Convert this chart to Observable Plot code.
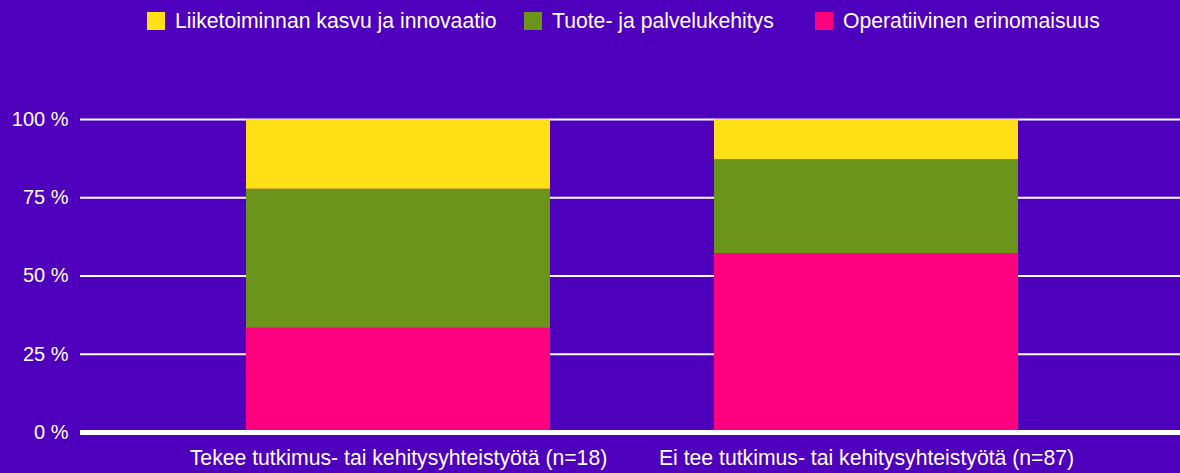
<!DOCTYPE html>
<html><head><meta charset="utf-8">
<script src="https://cdn.jsdelivr.net/npm/d3@7"></script>
<script src="https://cdn.jsdelivr.net/npm/@observablehq/plot@0.6"></script>
<style>
html,body{margin:0;padding:0;background:#4F00BC;}
body{width:1180px;height:473px;overflow:hidden;font-family:"Liberation Sans",Arial,sans-serif;color:#fff;}
#legend{position:relative;height:40px;}
.item{position:absolute;top:0;height:42px;display:flex;align-items:center;font-size:21.2px;white-space:nowrap;}
.sw{width:18px;height:18px;margin-right:10px;flex:none;}
#chart svg{display:block;}
</style></head><body>
<div id="legend"></div><div id="chart"></div>
<script>
const categories = ["Tekee tutkimus- tai kehitysyhteistyötä (n=18)", "Ei tee tutkimus- tai kehitysyhteistyötä (n=87)"];
const series = ["Operatiivinen erinomaisuus", "Tuote- ja palvelukehitys", "Liiketoiminnan kasvu ja innovaatio"];
const operatiivinen = [33.3, 57.2];
const tuote = [44.4, 30.0];
const liiketoiminta = [22.3, 12.8];
const colors = ["#FF007F", "#6B951A", "#FFDF16"];
const yTicks = [0, 25, 50, 75, 100];
const legendOrder = ["Liiketoiminnan kasvu ja innovaatio", "Tuote- ja palvelukehitys", "Operatiivinen erinomaisuus"];

const valuesBySeries = [operatiivinen, tuote, liiketoiminta];
const data = [];
series.forEach((s, i) => categories.forEach((c, j) => data.push({category: c, series: s, value: valuesBySeries[i][j]})));

// legend
const legendLefts = [147, 524, 815];
const legend = document.getElementById("legend");
legendOrder.forEach((s, i) => {
  const it = document.createElement("div");
  it.className = "item";
  it.style.left = legendLefts[i] + "px";
  const sw = document.createElement("div");
  sw.className = "sw";
  sw.style.background = colors[series.indexOf(s)];
  const tx = document.createElement("span");
  tx.textContent = s;
  it.appendChild(sw); it.appendChild(tx);
  legend.appendChild(it);
});

const chart = Plot.plot({
  width: 1180, height: 433,
  marginLeft: 80, marginRight: 0, marginTop: 79, marginBottom: 41,
  style: {background: "transparent", color: "#fff", fontFamily: "'Liberation Sans', Arial, sans-serif", fontSize: "20px"},
  x: {domain: categories, range: [81, 1183], padding: 0.35, axis: null},
  y: {domain: [0, 100], axis: null},
  color: {domain: series, range: colors},
  marks: [
    Plot.gridY(yTicks.filter(t => t > 0), {stroke: "#fff", strokeOpacity: 1, strokeWidth: 2}),
    Plot.barY(data, {x: "category", y: "value", fill: "series", order: series}),
    Plot.ruleY([0], {stroke: "#fff", strokeWidth: 5}),
    Plot.axisY({ticks: yTicks, tickFormat: d => d + " %", tickSize: 0, tickPadding: 12, fontSize: 20, label: null, fill: "#fff"}),
    Plot.axisX({tickSize: 0, tickPadding: 17, fontSize: 21.2, label: null, fill: "#fff"})
  ]
});
document.getElementById("chart").appendChild(chart);
</script>
</body></html>
